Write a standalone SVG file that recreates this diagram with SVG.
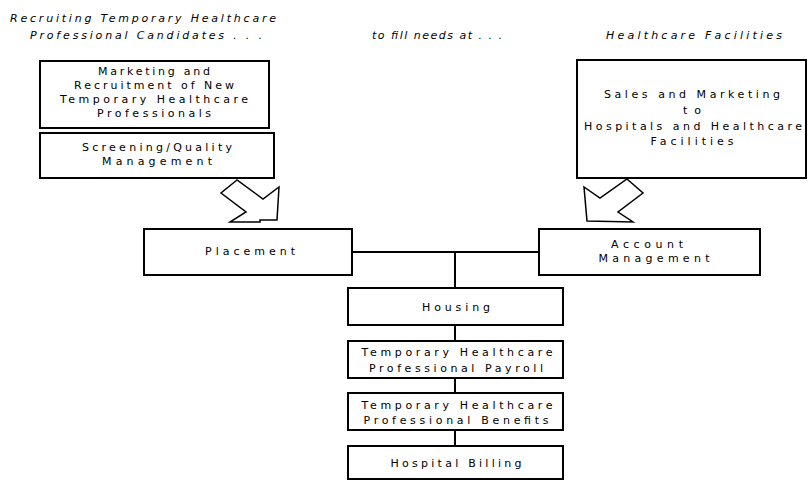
<svg xmlns="http://www.w3.org/2000/svg" width="808" height="480" viewBox="0 0 808 480">
<style>
.box{fill:#fff;stroke:#000;stroke-width:2}
.t{font-family:"DejaVu Sans","Liberation Sans",Arial,sans-serif;font-size:11px;fill:#000;text-anchor:middle}
.h{font-family:"DejaVu Sans","Liberation Sans",Arial,sans-serif;font-size:11px;font-style:italic;fill:#000}
.ln{stroke:#000;stroke-width:2;fill:none}
.arr{fill:#fff;stroke:#000;stroke-width:1.5;stroke-linejoin:miter}
</style>
<rect width="808" height="480" fill="#fff"/>
<g id="headers">
<text class="h" x="10" y="22" textLength="266" lengthAdjust="spacing">Recruiting Temporary Healthcare</text>
<text class="h" x="30" y="39" textLength="232" lengthAdjust="spacing">Professional Candidates . . .</text>
<text class="h" x="372" y="39" textLength="130" lengthAdjust="spacing">to fill needs at . . .</text>
<text class="h" x="606" y="39" textLength="176" lengthAdjust="spacing">Healthcare Facilities</text>
</g>
<g id="connectors">
<line class="ln" x1="352" y1="252" x2="539" y2="252"/>
<line class="ln" x1="455" y1="252" x2="455" y2="288"/>
<line class="ln" x1="455" y1="325" x2="455" y2="341"/>
<line class="ln" x1="455" y1="378" x2="455" y2="393"/>
<line class="ln" x1="455" y1="430" x2="455" y2="446"/>
<polygon class="arr" points="237,180 221,193 246,212 230,222 260,222 260,220 277,220 279,187 263,199"/>
<polygon class="arr" points="627,179 643,193 618,212 633,222 587,221 584,187 600,198"/>
</g>
<g id="marketing">
<rect class="box" x="40" y="61" width="229" height="67"/>
<text class="t" x="154" y="75" textLength="112" lengthAdjust="spacing">Marketing and</text>
<text class="t" x="154" y="89" textLength="160" lengthAdjust="spacing">Recruitment of New</text>
<text class="t" x="154" y="103" textLength="188" lengthAdjust="spacing">Temporary Healthcare</text>
<text class="t" x="154" y="117" textLength="114" lengthAdjust="spacing">Professionals</text>
</g>
<g id="screening">
<rect class="box" x="40" y="133" width="234" height="45"/>
<text class="t" x="157" y="151" textLength="150" lengthAdjust="spacing">Screening/Quality</text>
<text class="t" x="157" y="165" textLength="110" lengthAdjust="spacing">Management</text>
</g>
<g id="sales">
<rect class="box" x="577" y="60" width="229" height="118"/>
<text class="t" x="692" y="98" textLength="176" lengthAdjust="spacing">Sales and Marketing</text>
<text class="t" x="692" y="114" textLength="18" lengthAdjust="spacing">to</text>
<text class="t" x="693" y="130" textLength="218" lengthAdjust="spacing">Hospitals and Healthcare</text>
<text class="t" x="692" y="145" textLength="83" lengthAdjust="spacing">Facilities</text>
</g>
<g id="placement">
<rect class="box" x="144" y="229" width="208" height="46"/>
<text class="t" x="250" y="255" textLength="90" lengthAdjust="spacing">Placement</text>
</g>
<g id="account">
<rect class="box" x="539" y="229" width="221" height="46"/>
<text class="t" x="647" y="248" textLength="72" lengthAdjust="spacing">Account</text>
<text class="t" x="654" y="262" textLength="111" lengthAdjust="spacing">Management</text>
</g>
<g id="housing">
<rect class="box" x="348" y="288" width="215" height="37"/>
<text class="t" x="456" y="311" textLength="68" lengthAdjust="spacing">Housing</text>
</g>
<g id="payroll">
<rect class="box" x="348" y="341" width="215" height="37"/>
<text class="t" x="457" y="356" textLength="191" lengthAdjust="spacing">Temporary Healthcare</text>
<text class="t" x="456" y="372" textLength="174" lengthAdjust="spacing">Professional Payroll</text>
</g>
<g id="benefits">
<rect class="box" x="348" y="393" width="215" height="37"/>
<text class="t" x="457" y="409" textLength="191" lengthAdjust="spacing">Temporary Healthcare</text>
<text class="t" x="456" y="424" textLength="185" lengthAdjust="spacing">Professional Benefits</text>
</g>
<g id="billing">
<rect class="box" x="348" y="446" width="215" height="33"/>
<text class="t" x="456" y="467" textLength="131" lengthAdjust="spacing">Hospital Billing</text>
</g>
</svg>
